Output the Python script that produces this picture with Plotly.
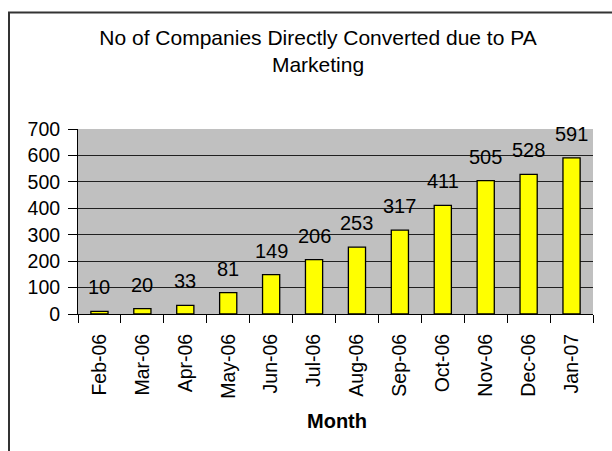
import plotly.graph_objects as go

months = ["Feb-06", "Mar-06", "Apr-06", "May-06", "Jun-06", "Jul-06",
          "Aug-06", "Sep-06", "Oct-06", "Nov-06", "Dec-06", "Jan-07"]
companies = [10, 20, 33, 81, 149, 206, 253, 317, 411, 505, 528, 591]

FONT = "Arial, Liberation Sans, sans-serif"
W, H = 612, 451
L, R, T, B = 78, 19, 129, 137
PW, PH = W - L - R, H - T - B


def px_x(x):
    return (x - L) / PW


def px_y(y):
    return (H - B - y) / PH


fig = go.Figure()

fig.add_trace(go.Bar(
    x=months,
    y=companies,
    width=0.4,
    marker=dict(color="#FFFF00", line=dict(color="#000000", width=1.3)),
    showlegend=False,
))

# value labels above the bars
for m, v in zip(months, companies):
    fig.add_annotation(
        x=m, y=v, text=str(v), showarrow=False,
        yanchor="bottom", yshift=11,
        font=dict(family=FONT, size=20, color="#000000"),
    )

fig.add_annotation(
    x=px_x(337), y=px_y(421), xref="paper", yref="paper",
    text="<b>Month</b>", showarrow=False, yanchor="middle",
    font=dict(family=FONT, size=20, color="#000000"),
)

# chart area border
fig.add_shape(
    type="rect", xref="paper", yref="paper",
    x0=px_x(9), x1=px_x(640), y0=px_y(480), y1=px_y(12.5),
    line=dict(color="#333333", width=2), fillcolor="rgba(0,0,0,0)",
)

fig.update_layout(
    width=W, height=H,
    margin=dict(l=L, r=R, t=T, b=B),
    paper_bgcolor="white",
    plot_bgcolor="#C0C0C0",
    font=dict(family=FONT, size=20, color="#000000"),
    title=dict(
        text="No of Companies Directly Converted due to PA<br>Marketing",
        x=318 / W, xanchor="center", xref="container",
        y=1 - 45 / H, yanchor="top",
        font=dict(family=FONT, size=21, color="#000000"),
    ),
    bargap=0.6,
)

fig.update_xaxes(
    type="category",
    tickangle=-90,
    ticks="outside", tickson="boundaries", ticklen=8, tickcolor="#000000",
    showline=True, linecolor="#000000", linewidth=1,
    showgrid=False,
    tickfont=dict(family=FONT, size=19.5),
    ticklabelstandoff=11,
)

fig.update_yaxes(
    range=[0, 700], dtick=100,
    ticks="outside", ticklen=9, tickcolor="#000000",
    showline=True, linecolor="#000000", linewidth=1,
    gridcolor="#202020", gridwidth=1,
    tickfont=dict(family=FONT, size=19.5),
    ticklabelstandoff=4,
    zeroline=False,
)

fig.write_html(
    "out.html",
    config={"displayModeBar": False},
    post_script="document.body.style.margin='0';",
)
